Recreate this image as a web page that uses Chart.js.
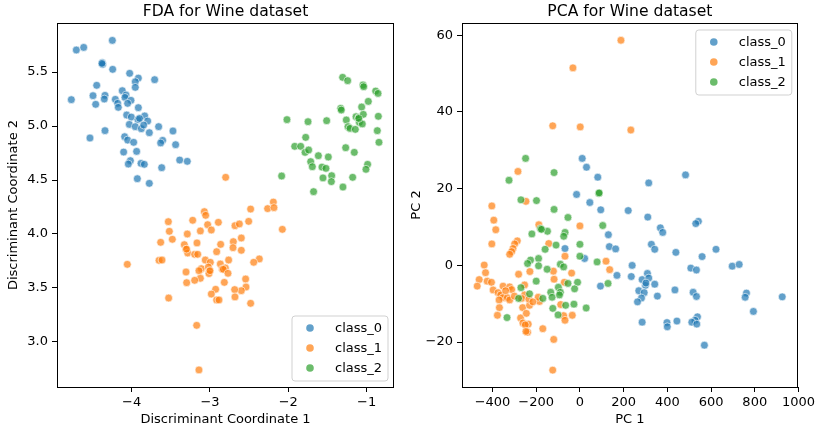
<!DOCTYPE html>
<html><head><meta charset="utf-8">
<script src="https://cdn.jsdelivr.net/npm/chart.js@4.4.1/dist/chart.umd.min.js"></script>
<style>
html,body{margin:0;padding:0;background:#fff;}
#wrap{position:relative;width:818px;height:429px;overflow:hidden;}
.box{position:absolute;top:0;width:409px;height:429px;}
</style></head><body>
<div id="wrap">
<div class="box" style="left:0"><canvas id="c1"></canvas></div>
<div class="box" style="left:409px"><canvas id="c2"></canvas></div>
</div>
<script>
// ---------- data ----------
const classNames = ['class_0', 'class_1', 'class_2'];
const classColors = ['rgba(31,119,180,0.7)', 'rgba(255,127,14,0.7)', 'rgba(44,160,44,0.7)'];

const fdaTitle = 'FDA for Wine dataset';
const fdaXLabel = 'Discriminant Coordinate 1';
const fdaYLabel = 'Discriminant Coordinate 2';
const fdaXTicks = [-4, -3, -2, -1];
const fdaYTicks = [3.0, 3.5, 4.0, 4.5, 5.0, 5.5];

const fdaClass0X = [-4.247,-4.707,-4.613,-4.375,-4.371,-4.243,-4.026,-3.915,-3.954,-3.707,-3.954,-4.447,-4.771,-4.494,-4.460,-4.341,-4.350,-4.120,-4.073,-4.086,-4.209,-4.179,-4.171,-4.009,-4.052,-3.915,-4.064,-4.005,-3.920,-3.834,-3.796,-4.030,-3.954,-3.877,-3.847,-3.656,-3.775,-3.473,-4.341,-4.533,-4.090,-4.052,-3.975,-3.605,-3.630,-3.439,-4.103,-3.937,-4.017,-4.043,-3.881,-3.839,-3.387,-3.290,-3.617,-3.928,-3.775,-4.380,-3.900];
const fdaClass0Y = [5.793,5.704,5.728,5.586,5.571,5.525,5.488,5.444,5.410,5.429,5.358,5.377,5.244,5.281,5.201,5.284,5.250,5.327,5.287,5.265,5.247,5.210,5.173,5.238,5.210,5.170,5.102,5.083,5.059,5.093,5.046,5.015,4.994,4.975,5.009,4.994,4.938,4.954,4.957,4.889,4.901,4.870,4.849,4.867,4.843,4.827,4.759,4.765,4.679,4.648,4.654,4.645,4.685,4.673,4.614,4.512,4.469,5.580,5.070];

const fdaClass1X = [-2.800,-2.191,-2.264,-2.183,-2.481,-3.072,-3.055,-3.532,-3.221,-2.893,-3.030,-2.983,-3.123,-3.519,-3.290,-2.681,-2.625,-2.506,-2.076,-3.481,-2.600,-3.630,-3.328,-3.306,-3.285,-3.166,-2.864,-2.702,-2.706,-2.600,-2.915,-3.196,-3.157,-4.056,-3.651,-3.613,-3.060,-2.996,-2.762,-2.868,-2.370,-2.442,-3.111,-3.141,-3.021,-3.009,-2.843,-2.804,-2.830,-2.770,-3.306,-3.013,-3.123,-3.196,-3.298,-2.817,-2.545,-2.540,-2.600,-2.685,-2.928,-2.983,-2.915,-2.885,-2.681,-2.481,-3.528,-3.170,-3.141,-3.000,-3.300];
const fdaClass1Y = [4.525,4.296,4.235,4.244,4.231,4.207,4.173,4.114,4.127,4.108,4.086,4.037,4.028,4.025,4.000,4.077,4.093,4.117,4.043,3.951,3.963,3.923,3.901,3.858,3.824,3.917,3.904,3.929,3.873,3.849,3.836,3.812,3.812,3.719,3.756,3.759,3.759,3.738,3.759,3.722,3.769,3.738,3.679,3.660,3.694,3.654,3.676,3.685,3.673,3.636,3.648,3.633,3.590,3.571,3.549,3.552,3.583,3.509,3.475,3.485,3.488,3.444,3.389,3.389,3.417,3.358,3.407,3.154,2.741,3.660,3.860];

const fdaClass2X = [-1.306,-1.242,-1.046,-1.037,-0.884,-0.854,-0.978,-1.331,-1.323,-1.063,-2.017,-1.748,-1.510,-1.259,-1.135,-1.101,-1.042,-1.238,-1.212,-1.144,-1.093,-1.055,-0.850,-0.863,-0.842,-1.778,-1.918,-1.842,-1.786,-1.740,-1.267,-1.157,-1.616,-1.489,-1.714,-1.693,-1.570,-1.519,-0.987,-1.008,-2.085,-1.557,-1.446,-1.450,-1.178,-1.302,-1.677,-1.100];
const fdaClass2Y = [5.451,5.420,5.380,5.364,5.324,5.302,5.228,5.164,5.148,5.176,5.059,5.040,5.049,5.056,5.086,5.077,5.108,4.994,4.978,4.969,5.034,5.019,5.090,4.957,4.849,4.895,4.812,4.812,4.756,4.778,4.799,4.756,4.725,4.713,4.670,4.623,4.620,4.608,4.645,4.599,4.537,4.519,4.540,4.485,4.525,4.435,4.392,5.070];

const pcaTitle = 'PCA for Wine dataset';
const pcaXLabel = 'PC 1';
const pcaYLabel = 'PC 2';
const pcaXTicks = [-400, -200, 0, 200, 400, 600, 800, 1000];
const pcaYTicks = [-20, 0, 20, 40, 60];

const pcaClass0X = [10.5,30.2,81.7,-15.3,45.3,95.3,221,483.2,314.8,310.5,368,378.7,542,530,327,342.3,439,559,622.6,239,235,507.4,533,696.8,728.6,308.9,284.7,315,342.3,299.8,269.5,294,281.7,263.5,354.4,434.7,518,533.2,762,756,925.6,793.8,537.7,527,512,534.7,443.8,398.3,399.8,284.7,569.5,130.2,-68.3,134.7,163.5,21.4,169.5,94,302];
const pcaClass0Y = [27.9,25.6,23.0,18.5,16.4,14.5,14.3,23.6,21.5,12.6,9.8,8.6,11.5,10.9,5.5,4.2,3.4,2.3,4.2,0.0,-2.9,-0.7,-1.2,-0.2,0.25,-2.1,-3.7,-3.3,-4.9,-5.2,-6.6,-7.1,-8.5,-9.5,-8.0,-6.4,-7.0,-8.1,-7.2,-8.3,-8.2,-12.0,-13.4,-14.3,-14.8,-15.3,-14.5,-14.9,-16.0,-14.8,-20.8,8.0,4.4,4.9,4.3,1.8,-2.6,-5.4,-4.6];

const pcaClass1X = [187.7,-32,-124.4,1.4,233,-283.5,-247,-403,-394,-384.9,-187.9,0,-403,-286.5,-298.6,-306.2,-312.3,-321.4,-142.6,-68.3,-437.9,-431.8,-460.8,-469.9,-424.4,-404.7,-397.1,-228.9,-121.4,-118.3,-38,-71.4,119.5,136.2,-87.9,-35,-74.4,-68.3,-377.4,-368.3,-271.4,-260.8,-236.5,-250,-239.5,-247,-169.8,-119.8,-124.4,-262,-230.5,-184.8,-190.8,-280.5,-253.2,-351.7,-321.4,-312.3,-374.4,-362.3,-351.7,-369.8,-332,-321.4,-253.2,-266.8,-233.5,-215.3,-340,-300,-245];
const pcaClass1Y = [58.7,51.5,36.4,36.1,35.3,24.5,16.7,15.5,11.8,9.3,10.6,10.3,5.6,6.4,5.6,4.4,3.6,2.9,5.7,2.4,0.1,-1.9,-3.7,-5.4,-4.1,-4.4,-6.4,-1.6,-1.5,-3.6,-2.0,-4.4,1.1,-1.1,-10.2,-13.0,-13.1,-14.3,-13.0,-11.0,-13.7,-15.0,-15.3,-15.5,-17.4,-17.2,-16.5,-19.3,-27.3,-11.0,-10.4,-9.4,-8.3,-2.3,-5.1,-5.4,-5.6,-6.3,-7.1,-7.7,-8.4,-9.0,-8.4,-9.0,-7.7,-8.6,-8.8,-9.5,-6.6,-8.0,-12.5];

const pcaClass2X = [-248.6,-118.3,-324.4,86.2,88,-269.8,-198.6,-118.3,-54.7,-219.8,-180.5,-148.6,-68,-74,104.4,-109.2,-159.2,0,0,-189.2,-225.9,-239.5,-189.2,-150,-89.5,-74.4,-54.7,-10.8,-24.4,-200,-269.8,-230.5,-98.6,-89.5,-133.5,-127.4,-169.8,-280.5,78.6,128.6,-27.4,-65.3,28.6,-100,-124,-333.5,-176,-93.5];
const pcaClass2Y = [27.9,24.2,22.2,18.8,18.9,17.1,16.9,14.6,12.5,8.2,9.6,8.9,8.6,7.6,10.4,5.3,4.2,5.5,2.4,1.8,1.4,0.5,-0.1,-1.0,0.3,-0.4,-4.7,-4.4,-6.1,-4.1,-5.8,-7.4,-5.7,-7.0,-7.0,-8.3,-8.6,-8.6,0.9,-4.7,-10.1,-10.4,-11.1,-12.9,-11.2,-13.6,9.4,-7.7];

// axis limits (matplotlib auto margins)
const fdaXLim = [-4.954, -0.650];
const fdaYLim = [2.583, 5.954];
const pcaXLim = [-539.5, 996.8];
const pcaYLim = [-31.7, 63.2];

// ---------- rendering ----------
const FONT = 'DejaVu Sans';
Chart.defaults.color = '#000';
Chart.defaults.font.family = FONT;

function pts(xs, ys) { return xs.map((x, i) => ({x: x, y: ys[i]})); }
function fmtMinus(s) { return String(s).replace('-', '\u2212'); }

const frame = {
  id: 'frame',
  afterDraw(chart, args, opts) {
    const {ctx, chartArea: a} = chart;
    ctx.save();
    // axes box
    ctx.strokeStyle = '#000';
    ctx.lineWidth = 1;
    ctx.strokeRect(Math.round(a.left) + 0.5, Math.round(a.top) + 0.5,
                   Math.round(a.right - a.left) - 1, Math.round(a.bottom - a.top));
    // title
    ctx.fillStyle = '#000';
    ctx.font = '15.6px ' + FONT;
    ctx.textAlign = 'center';
    ctx.textBaseline = 'middle';
    ctx.fillText(opts.title, (a.left + a.right) / 2, 11.5);
    // legend
    const w = 96, h = 65;
    const bx = a.right - 6.5 - w;
    const by = opts.legendPos === 'lower right' ? a.bottom - 6.5 - h : a.top + 6.5;
    ctx.beginPath();
    if (ctx.roundRect) ctx.roundRect(bx + 0.5, by + 0.5, w, h, 3); else ctx.rect(bx + 0.5, by + 0.5, w, h);
    ctx.fillStyle = 'rgba(255,255,255,0.8)';
    ctx.fill();
    ctx.strokeStyle = 'rgba(204,204,204,0.9)';
    ctx.lineWidth = 1;
    ctx.stroke();
    ctx.font = '13px ' + FONT;
    ctx.textAlign = 'left';
    chart.data.datasets.forEach((ds, i) => {
      const cy = by + 12.5 + i * 20;
      ctx.beginPath();
      ctx.arc(bx + 18.5, cy, 3.8, 0, Math.PI * 2);
      ctx.fillStyle = ds.backgroundColor;
      ctx.fill();
      ctx.fillStyle = '#000';
      ctx.fillText(ds.label, bx + 43.5, cy + 0.5);
    });
    ctx.restore();
  }
};

function makeChart(id, title, series, xLab, yLab, xTicks, yTicks, xLim, yLim, yDec, yAxisW, rightPad, yTitlePad, legendPos) {
  const datasets = series.map((s, i) => ({
    label: classNames[i],
    data: pts(s[0], s[1]),
    backgroundColor: classColors[i],
    borderColor: 'rgba(255,255,255,0.75)',
    borderWidth: 0.8,
    pointRadius: 3.9,
    order: 3 - i
  }));
  const tickFont = {family: FONT, size: 13};
  return new Chart(document.getElementById(id), {
    type: 'scatter',
    data: {datasets},
    options: {
      responsive: true, maintainAspectRatio: false, animation: false, devicePixelRatio: 1,
      layout: {padding: {top: 23, right: rightPad, left: 0, bottom: 0}},
      plugins: {legend: {display: false}, tooltip: {enabled: false}, title: {display: false},
                frame: {title: title, legendPos: legendPos}},
      scales: {
        x: {
          type: 'linear', min: xLim[0], max: xLim[1],
          afterBuildTicks: s => { s.ticks = xTicks.map(v => ({value: v})); },
          afterFit: s => { s.height = 42; },
          ticks: {font: tickFont, color: '#000', padding: 3, maxRotation: 0, autoSkip: false,
                  callback: v => fmtMinus(v)},
          grid: {display: true, drawOnChartArea: false, drawTicks: true, tickLength: 5, color: '#000', lineWidth: 1},
          border: {display: false},
          title: {display: true, text: xLab, font: {family: FONT, size: 13}, color: '#000', padding: {top: 0, bottom: 2}}
        },
        y: {
          type: 'linear', min: yLim[0], max: yLim[1],
          afterBuildTicks: s => { s.ticks = yTicks.map(v => ({value: v})); },
          afterFit: s => { s.width = yAxisW; },
          ticks: {font: tickFont, color: '#000', padding: 4, autoSkip: false,
                  callback: v => fmtMinus(Number(v).toFixed(yDec))},
          grid: {display: true, drawOnChartArea: false, drawTicks: true, tickLength: 5, color: '#000', lineWidth: 1},
          border: {display: false},
          title: {display: true, text: yLab, font: {family: FONT, size: 13}, color: '#000', padding: {top: yTitlePad, bottom: 0}}
        }
      }
    },
    plugins: [frame]
  });
}

makeChart('c1', fdaTitle,
  [[fdaClass0X, fdaClass0Y], [fdaClass1X, fdaClass1Y], [fdaClass2X, fdaClass2Y]],
  fdaXLabel, fdaYLabel, fdaXTicks, fdaYTicks, fdaXLim, fdaYLim, 1, 57, 15, 6, 'lower right');
makeChart('c2', pcaTitle,
  [[pcaClass0X, pcaClass0Y], [pcaClass1X, pcaClass1Y], [pcaClass2X, pcaClass2Y]],
  pcaXLabel, pcaYLabel, pcaXTicks, pcaYTicks, pcaXLim, pcaYLim, 0, 53, 18, 0, 'upper right');
</script>
</body></html>
